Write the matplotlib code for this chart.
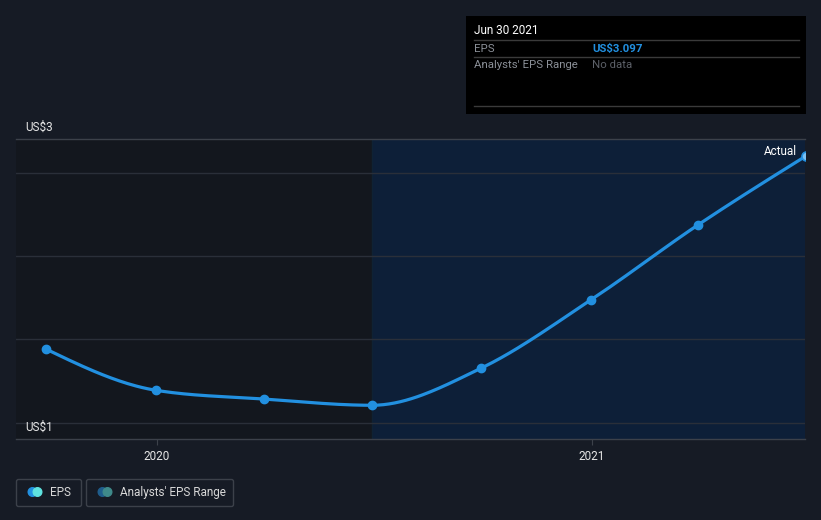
import matplotlib
matplotlib.use('Agg')
import matplotlib.pyplot as plt
import matplotlib.dates as mdates
import numpy as np
import pandas as pd
from matplotlib.patches import Rectangle, FancyBboxPatch, Circle

# ---- data ----
dates = ['2019-09-30', '2019-12-31', '2020-03-31', '2020-06-30',
         '2020-09-30', '2020-12-31', '2021-03-31', '2021-06-30']
eps = [1.577, 1.255, 1.186, 1.137, 1.430, 1.965, 2.554, 3.097]
forecast_start = '2020-06-30'
x_ticks = ['2020-01-01', '2021-01-01']
x_tick_labels = ['2020', '2021']
y_label_values = [1, 3]
y_labels = ['US$1', 'US$3']
tooltip_date = 'Jun 30 2021'
tooltip_eps = 'US$3.097'

plt.rcParams['font.family'] = ['Roboto', 'DejaVu Sans']

BG = '#161b25'
LEFT_BG = '#13171e'
SHADE = '#0d1f38'
GRID = '#2a2f39'
AXLINE = '#3c414a'
BLUE = '#2290e0'

W, H = 821, 520
fig = plt.figure(figsize=(W / 100, H / 100), dpi=100, facecolor=BG)

L, R, T, B = 16, 805, 139.3, 439.3
ax = fig.add_axes([L / W, 1 - B / H, (R - L) / W, (B - T) / H])
ax.set_facecolor(LEFT_BG)

xd = mdates.date2num(pd.to_datetime(dates))
y = np.array(eps, dtype=float)

# x scale: 2020 at px 157, 2021 at px 592
x2020 = mdates.date2num(pd.Timestamp('2020-01-01'))
x2021 = mdates.date2num(pd.Timestamp('2021-01-01'))
ppd = (592 - 157) / (x2021 - x2020)
xmin = x2020 - (157 - L) / ppd
xmax = x2020 + (R - 157) / ppd
ax.set_xlim(xmin, xmax)

# y scale: 1 at px 422.7, 3.097 at px 156
ppu = (422.7 - 156) / (3.097 - 1)
ymin = 1 - (B - 422.7) / ppu
ymax = 1 + (422.7 - T) / ppu
ax.set_ylim(ymin, ymax)

# shaded region
xf = mdates.date2num(pd.Timestamp(forecast_start))
ax.axvspan(xf, xmax, color=SHADE, zorder=0, lw=0)
ax.axvline(xf, color='#0f2234', lw=1, zorder=0.5)

# gridlines
step = 83.3 / ppu
for k in range(4):
    ax.axhline(1 + k * step, color=GRID, lw=1, zorder=1)

for s in ['left', 'right']:
    ax.spines[s].set_visible(False)
for s in ['top', 'bottom']:
    ax.spines[s].set_color(AXLINE)
    ax.spines[s].set_linewidth(1)

ax.set_yticks([])
ax.set_xticks(mdates.date2num(pd.to_datetime(x_ticks)))
ax.set_xticklabels(x_tick_labels, color='#e6e6e6', fontsize=8.5)
ax.tick_params(axis='x', length=4, color=AXLINE, pad=4)


# monotone-x curve (d3 style)
def monotone(xs, ys, n=40):
    xs = np.asarray(xs, float)
    ys = np.asarray(ys, float)
    h = np.diff(xs)
    s = np.diff(ys) / h
    t = np.zeros_like(ys)
    for i in range(1, len(xs) - 1):
        s0, s1 = s[i - 1], s[i]
        p = (s0 * h[i] + s1 * h[i - 1]) / (h[i - 1] + h[i])
        t[i] = (np.sign(s0) + np.sign(s1)) * min(abs(s0), abs(s1), 0.5 * abs(p))
    t[0] = (3 * s[0] - t[1]) / 2
    t[-1] = (3 * s[-1] - t[-2]) / 2
    ox, oy = [], []
    for i in range(len(xs) - 1):
        u = np.linspace(0, 1, n)
        hh = h[i]
        h00 = 2 * u**3 - 3 * u**2 + 1
        h10 = u**3 - 2 * u**2 + u
        h01 = -2 * u**3 + 3 * u**2
        h11 = u**3 - u**2
        ox.append(xs[i] + u * hh)
        oy.append(h00 * ys[i] + h10 * hh * t[i] + h01 * ys[i + 1] + h11 * hh * t[i + 1])
    return np.concatenate(ox), np.concatenate(oy)


cx, cy = monotone(xd, y)
ax.plot(cx, cy, color=BLUE, lw=2.3, zorder=3, solid_capstyle='round')
ax.plot(xd[:-1], y[:-1], 'o', color=BLUE, ms=6, zorder=4, mec=BLUE)
# highlighted latest point
ax.plot(xd[-1:], y[-1:], 'o', color='#7cc0f2', ms=6.5, zorder=5, mec=BLUE, mew=1.2)

# overlay in pixel coordinates
ov = fig.add_axes([0, 0, 1, 1], facecolor='none')
ov.set_xlim(0, W)
ov.set_ylim(H, 0)
ov.axis('off')

# y labels
ov.text(25, 127, y_labels[1], color='#e6e6e6', fontsize=8.5, va='center', ha='left')
ov.text(25, 427.5, y_labels[0], color='#e6e6e6', fontsize=8.5, va='center', ha='left')

# Actual label
ov.text(797, 151.5, 'Actual', color='#ffffff', fontsize=8.5, va='center', ha='right')

# tooltip
ov.add_patch(Rectangle((466, 16), 340, 98, facecolor='#000000', edgecolor='none'))
for yy in (40, 57, 106):
    ov.plot([474, 799], [yy, yy], color='#3a3a3a', lw=1)
ov.text(474, 31, tooltip_date, color='#ffffff', fontsize=8.5, va='center')
ov.text(474, 48.5, 'EPS', color='#8b9098', fontsize=8.2, va='center')
ov.text(592, 48.5, tooltip_eps, color=BLUE, fontsize=8.2, va='center', fontweight='bold')
ov.text(474, 65.5, "Analysts' EPS Range", color='#8b9098', fontsize=8.2, va='center')
ov.text(592, 65.5, 'No data', color='#5d6169', fontsize=8.2, va='center')

# legend
ov.add_patch(FancyBboxPatch((16.5, 479.5), 65, 27, boxstyle='round,pad=0,rounding_size=2',
                            facecolor='none', edgecolor='#3c414a', lw=1))
ov.add_patch(Circle((32.5, 492), 4.3, color=BLUE))
ov.add_patch(Circle((37.5, 492), 4.3, color='#5fe3e0'))
ov.text(50, 492.5, 'EPS', color='#d8d8d8', fontsize=8.5, va='center')

ov.add_patch(FancyBboxPatch((86.5, 479.5), 147, 27, boxstyle='round,pad=0,rounding_size=2',
                            facecolor='none', edgecolor='#3c414a', lw=1))
ov.add_patch(Circle((102.5, 492), 4.3, color='#1f5d8c'))
ov.add_patch(Circle((107.5, 492), 4.3, color='#3f8a8a'))
ov.text(120, 492.5, "Analysts' EPS Range", color='#d8d8d8', fontsize=8.5, va='center')

fig.savefig('out.png', dpi=100, facecolor=BG)
